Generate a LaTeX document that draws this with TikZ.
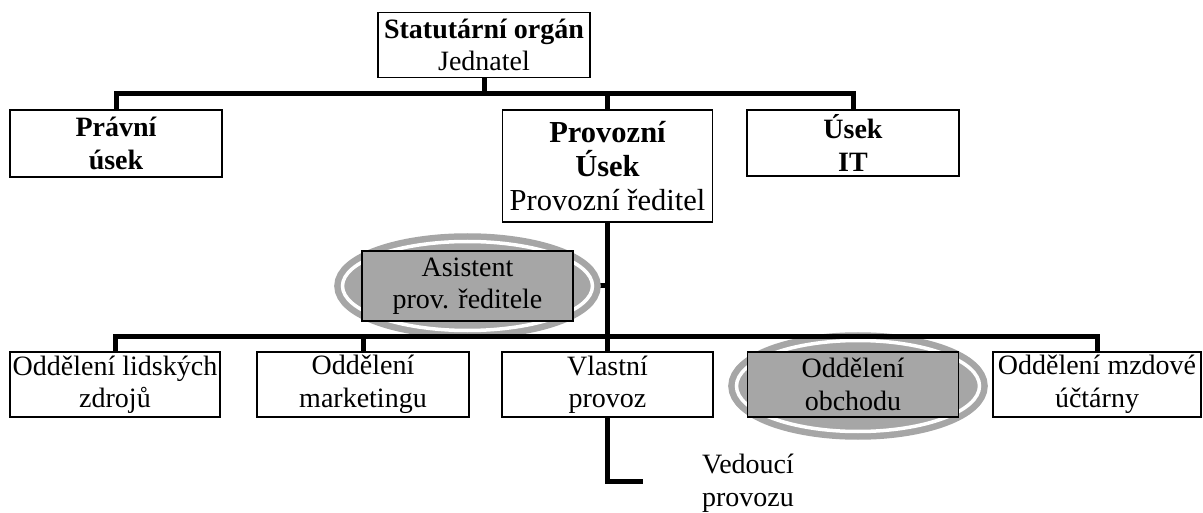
\documentclass[tikz,border=0pt]{standalone}
\usepackage{fontspec}
\setmainfont{Liberation Serif}
\definecolor{mygray}{RGB}{166,166,166}
\pgfdeclarelayer{under}
\pgfdeclarelayer{ell}
\pgfsetlayers{under,ell,main}
\begin{document}
\begin{tikzpicture}[x=1pt,y=-1pt,
  box/.style={draw=black,line width=1.3pt,fill=white,inner sep=0pt,align=center,
    font=\fontsize{28}{32.5}\selectfont,minimum height=65pt},
  graybox/.style={box,fill=mygray},
  conn/.style={line width=5pt,line join=miter},
  ring/.style={fill=mygray,draw=mygray,double=white,double distance=3.5pt,line width=6.5pt}]
\useasboundingbox (0,0) rectangle (1203,513);
% top level
\node[box,minimum width=212pt] (stat) at (484,45) {\bfseries Statutární orgán\\Jednatel};
\node[box,minimum width=212pt,minimum height=67pt] (pravni) at (116,143.5) {\bfseries Právní\\\bfseries úsek};
\node[box,minimum width=210pt,minimum height=112pt,font=\fontsize{30.5}{34}\selectfont] (prov) at (607.5,166) {\bfseries Provozní\\\bfseries Úsek\\Provozní ředitel};
\node[box,minimum width=212pt,minimum height=66pt] (it) at (853,143) {\bfseries Úsek\\\bfseries IT};
% assistant
\node[graybox,minimum width=211pt,minimum height=70pt] (asist) at (467.5,286) {Asistent\\prov. ředitele};
% departments
\node[box,minimum width=210pt] (lz) at (115,384.5) {Oddělení lidských\\zdrojů};
\node[box,minimum width=212pt] (mark) at (363,384.5) {Oddělení\\marketingu};
\node[box,minimum width=211pt] (vlast) at (607.5,384.5) {Vlastní\\provoz};
\node[graybox,minimum width=211pt] (obch) at (853,384.5) {Oddělení\\obchodu};
\node[box,minimum width=208pt] (mzd) at (1097,384.5) {Oddělení mzdové\\účtárny};
\node[align=center,inner sep=0pt,font=\fontsize{28}{32.5}\selectfont] (ved) at (748,483) {Vedoucí\\provozu};
% bus coordinates
\coordinate (b1) at (0,94);
\coordinate (b2) at (0,336);
\coordinate (lend) at (643,481);
% connectors under the ellipses
\begin{pgfonlayer}{under}
\draw[conn] (obch.north) -- (obch.north |- b2);
\draw[conn] (asist.east) -- (asist.east -| prov.south);
\end{pgfonlayer}
% ellipses
\begin{pgfonlayer}{ell}
\draw[ring] (asist.center) ellipse [x radius=125pt, y radius=44.5pt];
\draw[ring] (858,386) ellipse [x radius=121.5pt, y radius=45.5pt];
\end{pgfonlayer}
% top bus
\draw[conn] (pravni.north) -- (pravni.north |- b1) -| (it.north);
\draw[conn] (stat.south) -- (stat.south |- b1);
\draw[conn] (prov.north) -- (prov.north |- b1);
% middle
\draw[conn] (prov.south) -- (vlast.north);
% lower bus
\draw[conn] (lz.north) -- (lz.north |- b2) -| (mzd.north);
\draw[conn] (mark.north) -- (mark.north |- b2);
% Vedouci provozu
\draw[conn] (vlast.south) |- (lend);
\end{tikzpicture}
\end{document}
